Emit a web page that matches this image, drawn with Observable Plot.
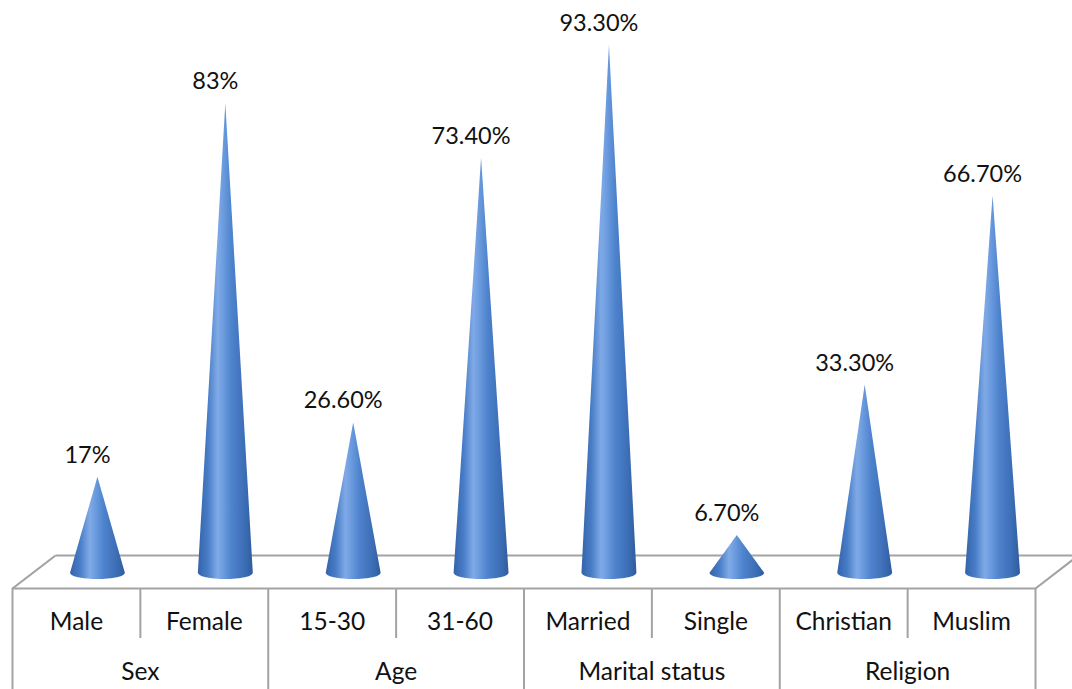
<!DOCTYPE html>
<html>
<head>
<meta charset="utf-8">
<script src="https://cdn.jsdelivr.net/npm/d3@7"></script>
<script src="https://cdn.jsdelivr.net/npm/@observablehq/plot@0.6"></script>
<style>
  html, body { margin: 0; padding: 0; background: #fff; overflow: hidden; }
  #chart svg { display: block; }
</style>
</head>
<body>
<div id="chart"></div>
<script>
// Respondent profile: share of respondents per category, grouped by characteristic
const groups = ["Sex", "Age", "Marital status", "Religion"];
const categories = ["Male", "Female", "15-30", "31-60", "Married", "Single", "Christian", "Muslim"];
const categoryGroup = ["Sex", "Sex", "Age", "Age", "Marital status", "Marital status", "Religion", "Religion"];
const percentages = [17, 83, 26.6, 73.4, 93.3, 6.7, 33.3, 66.7];

// Page layout (pixels)
const W = 1072, H = 689;
const zeroPx = 573;        // vertical position of the 0% level (cone bases)
const pxPerPct = 5.66;     // vertical pixels per percentage point
const toY = px => (zeroPx - px) / pxPerPct;   // pixel row -> y value
const colPx = (1035 - 12) / categories.length;
const depthX = 43 / colPx;                     // floor depth, in column units
const floorFront = toY(588), floorBack = toY(555);
const innerBottom = toY(638), tableBottom = toY(H);
const catRow = toY(622), groupRow = toY(672);
const coneHalf = 27.5 / colPx;                 // cone base half-width
const coneRy = 6 / pxPerPct;                   // cone base ellipse radius

const fmt = v => Number.isInteger(v) ? `${v}%` : `${v.toFixed(2)}%`;

// Outline of each cone: straight sides up to the apex, elliptical base below
const conePts = [];
const N = 40;
percentages.forEach((v, i) => {
  const cx = i + 0.5 + depthX / 2;
  for (let k = 0; k <= N; k++) {
    const t = -1 + 2 * k / N;
    conePts.push({
      cat: categories[i],
      x: cx + t * coneHalf,
      top: v * (1 - Math.abs(t)),
      bottom: -coneRy * Math.sqrt(Math.max(0, 1 - t * t))
    });
  }
});

const cats = categories.map((c, i) => ({cat: c, i, v: percentages[i]}));
const grps = groups.map((g, j) => ({g, center: categoryGroup.indexOf(g) + 1}));

// Floor outline (front, back and the two slanted sides)
const floorSegs = [
  {x1: 0, y1: floorFront, x2: categories.length, y2: floorFront},
  {x1: depthX, y1: floorBack, x2: categories.length + depthX, y2: floorBack},
  {x1: 0, y1: floorFront, x2: depthX, y2: floorBack},
  {x1: categories.length, y1: floorFront, x2: categories.length + depthX, y2: floorBack}
];

// Table dividers: group boundaries run full height, inner dividers only the category row
const dividers = d3.range(categories.length + 1).map(i => {
  const isGroupEdge = i === 0 || i === categories.length ||
    categoryGroup[i] !== categoryGroup[i - 1];
  return {x: i, y1: floorFront, y2: isGroupEdge ? tableBottom : innerBottom};
});

const plot = Plot.plot({
  width: W,
  height: H,
  marginTop: 0, marginBottom: 0, marginLeft: 12, marginRight: W - 1035,
  x: {type: "linear", domain: [0, categories.length], axis: null},
  y: {type: "linear", domain: [tableBottom, toY(0)], range: [H, 0], axis: null},
  style: {fontFamily: "Lato, 'Open Sans', sans-serif", fontSize: "24px", background: "#fff", overflow: "hidden"},
  marks: [
    Plot.link(floorSegs, {x1: "x1", y1: "y1", x2: "x2", y2: "y2", stroke: "#a3a3a3", strokeWidth: 2.2}),
    Plot.ruleX(dividers, {x: "x", y1: "y1", y2: "y2", stroke: "#a3a3a3", strokeWidth: 2}),
    Plot.areaY(conePts, {x: "x", y1: "bottom", y2: "top", z: "cat", fill: "url(#coneShade)", curve: "linear"}),
    Plot.text(cats, {x: d => d.i + 0.5, y: "v", dx: 11, dy: -22, text: d => fmt(d.v), fill: "#111", fontSize: 23.5}),
    Plot.text(cats, {x: d => d.i + 0.5, y: () => catRow, text: "cat", fill: "#111", fontSize: 24.5}),
    Plot.text(grps, {x: "center", y: () => groupRow, text: "g", fill: "#111", fontSize: 24.5})
  ]
});

// Horizontal shading that gives the cones their rounded look
const defs = d3.select(plot).insert("defs", ":first-child");
const grad = defs.append("linearGradient").attr("id", "coneShade")
  .attr("x1", "0").attr("y1", "0").attr("x2", "1").attr("y2", "0");
[
  [0, "#3464aa"], [0.18, "#477cc6"], [0.36, "#80aae6"], [0.46, "#6c9cdf"],
  [0.62, "#4d82cc"], [0.85, "#3c6eb6"], [1, "#2f5c9c"]
].forEach(([o, c]) => grad.append("stop").attr("offset", o).attr("stop-color", c));

document.getElementById("chart").append(plot);
</script>
</body>
</html>
